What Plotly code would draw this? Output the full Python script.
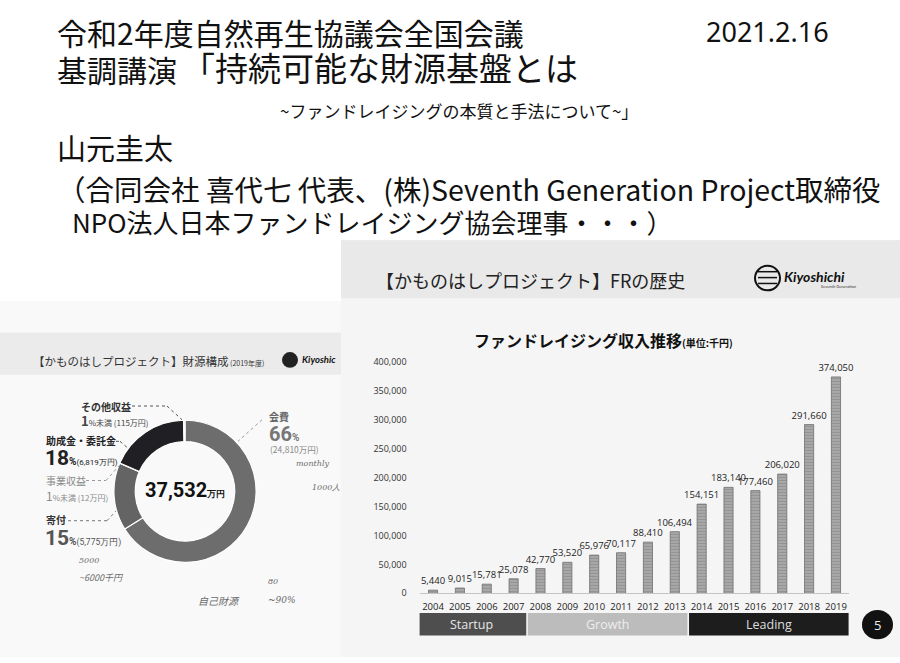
import plotly.graph_objects as go

W, H = 900, 663

# ---------------- data ----------------
years = ["2004", "2005", "2006", "2007", "2008", "2009", "2010", "2011",
         "2012", "2013", "2014", "2015", "2016", "2017", "2018", "2019"]
income = [5440, 9015, 15781, 25078, 42770, 53520, 65976, 70117,
          88410, 106494, 154151, 183140, 177460, 206020, 291660, 374050]
y_ticks = [0, 50000, 100000, 150000, 200000, 250000, 300000, 350000, 400000]

phases = ["Startup", "Growth", "Leading"]
phase_first = ["2004", "2008", "2014"]
phase_last = ["2007", "2013", "2019"]

fund_sources = ["会費", "寄付", "事業収益", "助成金・委託金", "その他収益"]
fund_values = [24810, 5775, 12, 6819, 115]     # 万円
fund_total_label = 37532                         # 万円 (as printed)

# ---------------- helpers ----------------
def px(x):
    return x / W

def py(y):
    return 1 - y / H

CJK = "Noto Sans CJK JP"
ann = []
shapes = []

def text(t, x, y, size, color="#111", xa="left", ya="middle", family=CJK, **kw):
    ann.append(dict(text=t, x=px(x), y=py(y), xref="paper", yref="paper",
                    xanchor=xa, yanchor=ya, showarrow=False,
                    font=dict(size=size, color=color, family=family), **kw))

def rect(x0, y0, x1, y1, fill, layer="below", line=None):
    shapes.append(dict(type="rect", xref="paper", yref="paper",
                       x0=px(x0), x1=px(x1), y0=py(y1), y1=py(y0),
                       fillcolor=fill, line=line or dict(width=0), layer=layer))

def seg(pts, color="#555", dash="dot", width=1):
    for (a, b), (c, d) in zip(pts[:-1], pts[1:]):
        shapes.append(dict(type="line", xref="paper", yref="paper",
                           x0=px(a), y0=py(b), x1=px(c), y1=py(d),
                           line=dict(color=color, dash=dash, width=width), layer="above"))

# ---------------- backgrounds (photos) ----------------
rect(0, 300, 345, 663, "#f9f9f9")
rect(0, 332, 345, 375, "#ebebeb")
rect(341, 238, 900, 663, "#f5f5f5")
rect(341, 238, 900, 297, "#e9e9e9")

# ---------------- slide text ----------------
text("令和2年度自然再生協議会全国会議", 55, 25, 30)
text("2021.2.16", 704, 25, 27, family="Noto Sans")
text("基調講演", 55, 63, 30)
text("「持続可能な財源基盤とは", 180, 61, 33)
text("~ファンドレイジングの本質と手法について~」", 278, 106, 17)
text("山元圭太", 55, 143, 29)
text("（合同会社 喜代七 代表、(株)Seventh Generation Project取締役", 55, 185, 28.5)
text("NPO法人日本ファンドレイジング協会理事・・・）", 70, 219, 26)

# ---------------- right photo header ----------------
text("【かものはしプロジェクト】FRの歴史", 374, 278, 18, color="#222")
shapes.append(dict(type="circle", xref="paper", yref="paper",
                   x0=px(755), x1=px(780), y0=py(289), y1=py(264),
                   line=dict(color="#111", width=2), layer="above"))
for yy in (270, 276, 282):
    seg([(758, yy), (777, yy)], color="#111", dash="solid", width=1.5)
text("<b><i>Kiyoshichi</i></b>", 782, 275, 14, color="#111", family="Lato")
text("Seventh Generation", 858, 285, 4, color="#333", xa="right", family="Lato")

text("<b>ファンドレイジング収入推移</b><span style='font-size:10px'><b>(単位:千円)</b></span>",
     472, 340, 16, color="#111")

# ---------------- bar chart ----------------
fig = go.Figure()
fig.add_trace(go.Bar(
    x=years, y=income, width=0.34,
    marker=dict(color="#a2a2a2", line=dict(color="#6f6f6f", width=0.8),
                pattern=dict(shape="-", fgcolor="#7c7c7c", bgcolor="#a8a8a8",
                             size=3, solidity=0.35)),
    texttemplate="%{y:,}", textposition="outside", constraintext="none",
    cliponaxis=False, textfont=dict(size=9.5, color="#222", family="Open Sans"),
    xaxis="x", yaxis="y", showlegend=False, hoverinfo="x+y"))

# phase bands below the years
band_style = {"Startup": ("#4e4e4e", "#e6e6e6"),
              "Growth": ("#bcbcbc", "#ededed"),
              "Leading": ("#1d1d1d", "#dddddd")}
for name, a, b in zip(phases, phase_first, phase_last):
    i0, i1 = years.index(a), years.index(b)
    fill, tcol = band_style[name]
    x0 = i0 - 0.5 + (0.03 if i0 else -0.12)
    x1 = i1 + 0.5 - 0.03
    shapes.append(dict(type="rect", xref="x", yref="paper", x0=x0, x1=x1,
                       y0=py(641), y1=py(618), fillcolor=fill,
                       line=dict(width=0), layer="above"))
    ann.append(dict(text=name, x=(x0 + x1) / 2, y=py(630), xref="x", yref="paper",
                    xanchor="center", yanchor="middle", showarrow=False,
                    font=dict(size=12.5, color=tcol, family="Open Sans")))

# page number circle
shapes.append(dict(type="circle", xref="paper", yref="paper",
                   x0=px(862), x1=px(893), y0=py(645), y1=py(615),
                   fillcolor="#111", line=dict(width=0), layer="above"))
text("5", 877, 630, 13, color="#eee", xa="center", family="Open Sans")

# ---------------- donut chart ----------------
donut_colors = ["#6d6d6d", "#646464", "#d5d5d5", "#1f1f24", "#b0b0b0"]
fig.add_trace(go.Pie(
    labels=fund_sources, values=fund_values, hole=0.70, sort=False,
    direction="clockwise", rotation=0, textinfo="none",
    marker=dict(colors=donut_colors, line=dict(color="white", width=1.2)),
    domain=dict(x=[px(113), px(257)], y=[py(566.5), py(421.5)]),
    showlegend=False, hoverinfo="label+value"))

total = sum(fund_values)

def pct_parts(v):
    p = round(v / total * 100)
    return (str(p), "%") if p >= 1 else ("1", "%未満")

def amt(v):
    return f"({v:,}万円)"

text("【かものはしプロジェクト】財源構成<span style='font-size:7px'> (2019年度)</span>",
     31, 361, 11.5, color="#333")
shapes.append(dict(type="circle", xref="paper", yref="paper",
                   x0=px(282), x1=px(298), y0=py(368), y1=py(352),
                   fillcolor="#222", line=dict(width=0), layer="above"))
text("<b><i>Kiyoshic</i></b>", 300, 360, 9.5, color="#111", family="Lato")

text(f"<b>{fund_total_label:,}</b><span style='font-size:9px'><b>万円</b></span>",
     185, 493, 20, color="#111", xa="center", family="Roboto")

# その他収益
n, s = pct_parts(fund_values[4])
text(f"<b>{fund_sources[4]}</b>", 79, 407, 10, color="#333")
text(f"<b>{n}</b><span style='font-size:8px'>{s} {amt(fund_values[4])}</span>", 79, 422, 13, color="#444")
seg([(132, 407), (167, 407), (182, 421)])
# 助成金・委託金
n, s = pct_parts(fund_values[3])
text(f"<b>{fund_sources[3]}</b>", 44, 442, 10, color="#222")
text(f"<b>{n}</b><span style='font-size:10px'><b>{s}</b></span><span style='font-size:8px'>{amt(fund_values[3])}</span>",
     43, 460, 21, color="#222", family="Roboto")
seg([(110, 443), (120, 443), (128, 450)])
# 事業収益
n, s = pct_parts(fund_values[2])
text(fund_sources[2], 44, 483, 10, color="#8a8a8a")
text(f"{n}<span style='font-size:8px'>{s} {amt(fund_values[2])}</span>", 44, 498, 12, color="#8a8a8a")
seg([(86, 483), (106, 483), (119, 468)], color="#999")
# 寄付
n, s = pct_parts(fund_values[1])
text(f"<b>{fund_sources[1]}</b>", 44, 523, 10, color="#333")
text(f"<b>{n}</b><span style='font-size:10px'><b>{s}</b></span><span style='font-size:8.5px'>{amt(fund_values[1])}</span>",
     43, 542, 21, color="#555", family="Roboto")
seg([(62, 524), (107, 524), (116, 514)], color="#777")
# 会費
n, s = pct_parts(fund_values[0])
text(f"<b>{fund_sources[0]}</b>", 267, 418, 10, color="#666")
text(f"<b>{n}</b><span style='font-size:10px'><b>{s}</b></span>", 267, 436, 20, color="#777", family="Roboto")
text(amt(fund_values[0]), 268, 451, 8.5, color="#888")
seg([(262, 421), (238, 443)], color="#999")

# handwritten notes (approximate)
hw = "#6a6a6a"
text("<i>5000</i>", 77, 565, 8, color=hw, family="DejaVu Serif")
text("<i>~6000千円</i>", 77, 582, 9, color=hw)
text("<i>自己財源</i>", 196, 605, 10, color=hw)
text("<i>80</i>", 266, 586, 8, color=hw, family="DejaVu Serif")
text("<i>~90%</i>", 266, 605, 9, color=hw, family="DejaVu Serif")
text("<i>monthly</i>", 294, 466, 8, color=hw, family="DejaVu Serif")
text("<i>1000人</i>", 310, 490, 8, color=hw, family="DejaVu Serif")

# ---------------- layout ----------------
fig.update_layout(
    width=W, height=H, margin=dict(l=0, r=0, t=0, b=0),
    paper_bgcolor="white", plot_bgcolor="rgba(0,0,0,0)",
    xaxis=dict(domain=[px(419.6), px(849.4)], type="category", range=[-0.5, 15.5],
               showline=True, linecolor="#c4c4c4", linewidth=1, ticks="",
               showgrid=False, zeroline=False, ticklabelstandoff=4,
               tickfont=dict(size=9.5, color="#222", family="Open Sans"),
               fixedrange=True),
    yaxis=dict(domain=[py(598), py(362)], range=[0, 400000], tickvals=y_ticks,
               tickformat=",", showgrid=False, zeroline=False, showline=False,
               ticks="", ticklabelstandoff=12,
               tickfont=dict(size=9, color="#333", family="Open Sans"),
               fixedrange=True),
    shapes=shapes, annotations=ann, bargap=0.6,
)

fig.write_html(
    "out.html",
    config={"displayModeBar": False},
    post_script="document.body.style.margin='0px';document.body.style.overflow='hidden';",
)
